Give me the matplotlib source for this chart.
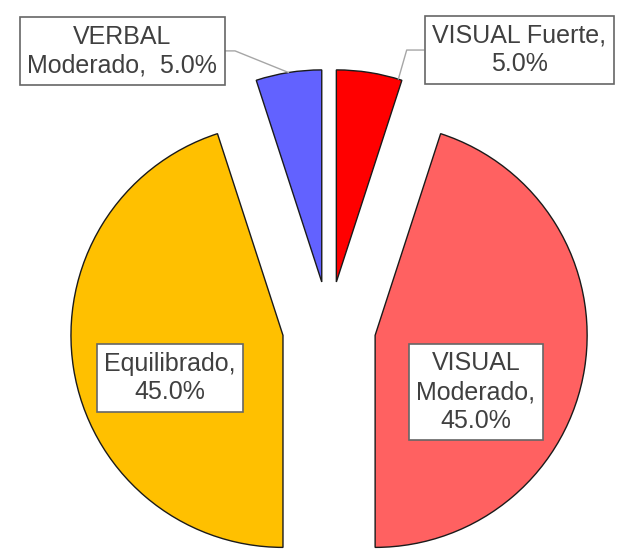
import numpy as np
import matplotlib
matplotlib.use("Agg")
import matplotlib.pyplot as plt

# datos del grafico (porcentajes de estilos de aprendizaje)
categorias = ["VISUAL Fuerte", "VISUAL\nModerado", "Equilibrado", "VERBAL\nModerado"]
valores = [5.0, 45.0, 45.0, 5.0]
separadores = ["\n", ",\n", ",\n", ",  "]
colores = ["#FF0000", "#FF6161", "#FFC000", "#6262FF"]

plt.rcParams["font.family"] = ["Liberation Sans", "DejaVu Sans"]

fig = plt.figure(figsize=(6.21, 5.49), dpi=100)
ax = fig.add_axes([0, 0, 1, 1])

wedges, _ = ax.pie(valores, colors=colores, startangle=90, counterclock=False,
                   explode=[0.22] * len(valores),
                   wedgeprops=dict(edgecolor="#1a1a1a", linewidth=1.0))

# posiciones de las etiquetas (centro de cada caja)
pos_etiquetas = [(0.896, 1.311), (0.693, -0.302), (-0.750, -0.236), (-0.976, 1.307)]

caja = dict(boxstyle="square,pad=0.3", facecolor="white", edgecolor="#666666", linewidth=1.2)
estilo = dict(ha="center", va="center", fontsize=18, color="#404040", bbox=caja, linespacing=1.25)

for i, w in enumerate(wedges):
    nombre = categorias[i]
    if i == 0:
        texto = f"{nombre},{separadores[i]}{valores[i]:.1f}%"
    else:
        texto = f"{nombre}{separadores[i]}{valores[i]:.1f}%"
    cx, cy = w.center
    if i == 0:
        ang = np.deg2rad(w.theta1 + 1)
        xy = (cx + w.r * np.cos(ang), cy + w.r * np.sin(ang))
        ax.annotate(texto, xy=xy, xytext=pos_etiquetas[i], **estilo,
                    arrowprops=dict(arrowstyle="-", color="#a6a6a6", lw=1.0, shrinkA=0, shrinkB=0,
                                    relpos=(0, 0.5),
                                    connectionstyle="angle,angleA=0,angleB=74,rad=0"))
    elif i == 3:
        ang = np.deg2rad((w.theta1 + w.theta2) / 2)
        xy = (cx + w.r * np.cos(ang), cy + w.r * np.sin(ang))
        ax.annotate(texto, xy=xy, xytext=pos_etiquetas[i], **estilo,
                    arrowprops=dict(arrowstyle="-", color="#a6a6a6", lw=1.0, shrinkA=0, shrinkB=0,
                                    relpos=(1, 0.5),
                                    connectionstyle="angle,angleA=0,angleB=-22,rad=0"))
    else:
        ax.text(pos_etiquetas[i][0], pos_etiquetas[i][1], texto, **estilo)

ax.set_xlim(-1.552, 1.377)
ax.set_ylim(-1.042, 1.547)
ax.set_aspect("auto")
ax.axis("off")

fig.savefig("out.png", dpi=100, facecolor="white")
